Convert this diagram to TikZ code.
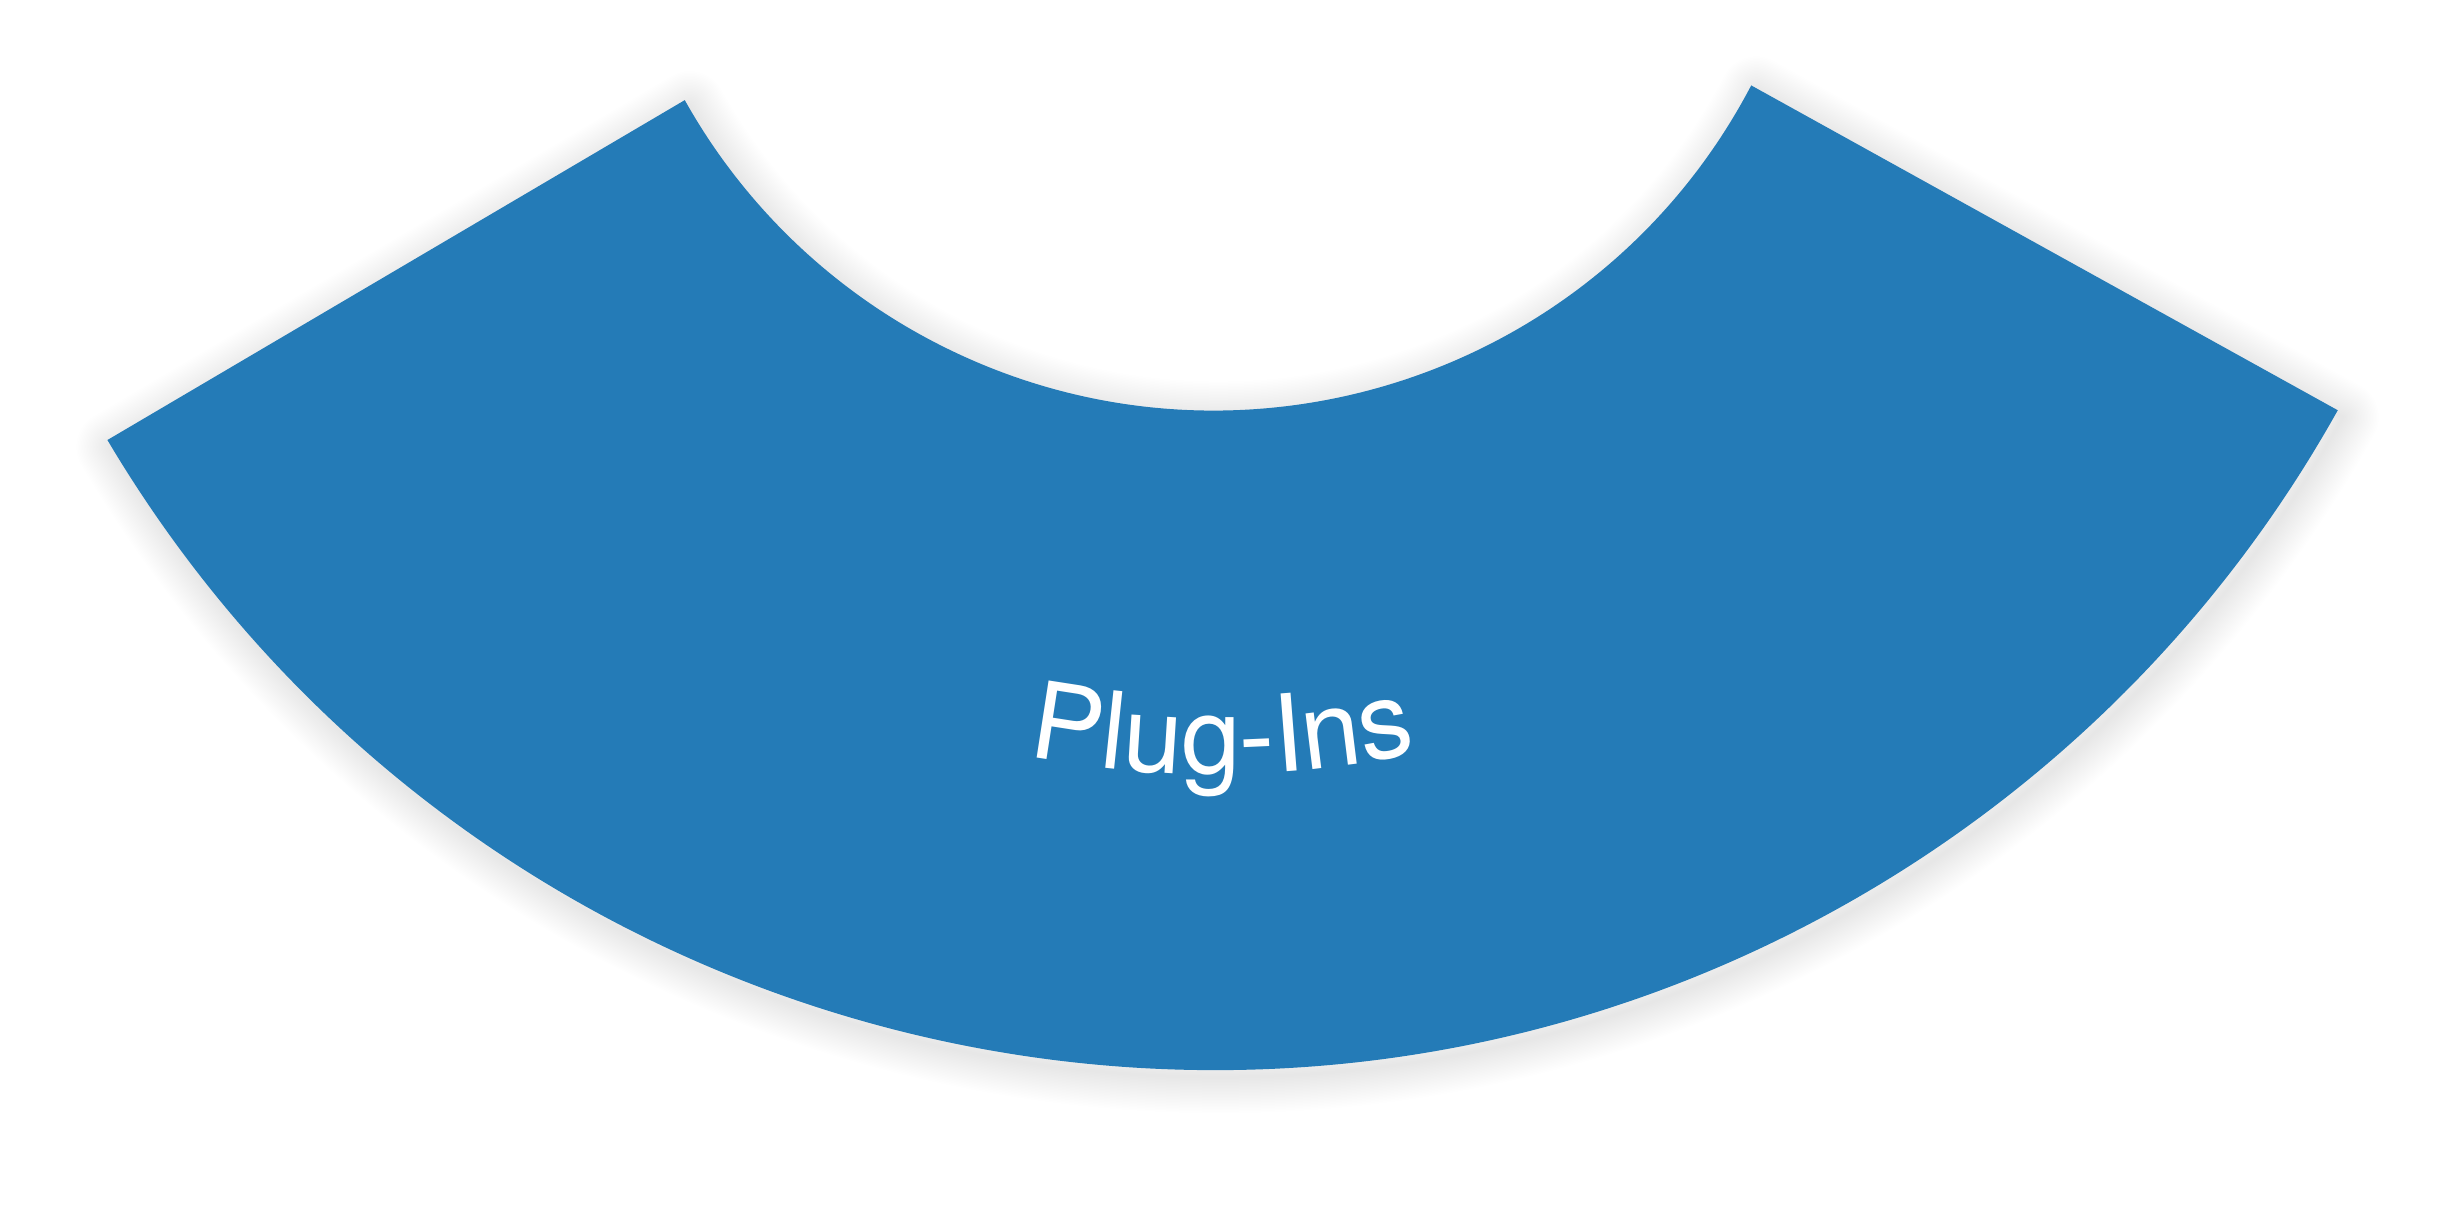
\documentclass[tikz,border=0pt]{standalone}
\usepackage{fontspec}
\newfontfamily\heros{TeX Gyre Heros}
\usetikzlibrary{decorations.text}
\definecolor{wedgeblue}{HTML}{247BB7}
\begin{document}
\begin{tikzpicture}[x=1pt,y=1pt]
\useasboundingbox (0,0) rectangle (2440,1205);
\def\wedgepath{([shift={(1214,1422)}]210.7:1287pt) arc[start angle=210.7,end angle=330.83,radius=1287pt] -- ([shift={(1214,1401)}]332.35:606.5pt) arc[start angle=332.35,end angle=209.23,radius=606.5pt] -- cycle}
% soft shadow
\foreach \w in {3,6,...,72}{
  \draw[line width=\w pt, black, opacity=0.0055, line join=round, xshift=5pt, yshift=-7pt] \wedgepath;
}
% wedge
\fill[wedgeblue] \wedgepath;
% curved label
\path[decorate, decoration={text along path, text align=center, text color=white,
  text={|\heros\fontsize{107}{110}\selectfont|Plug-Ins}}]
  ([shift={(1214,1417)}]245.5:986pt) arc[start angle=245.5,end angle=295.5,radius=986pt];
\end{tikzpicture}
\end{document}
